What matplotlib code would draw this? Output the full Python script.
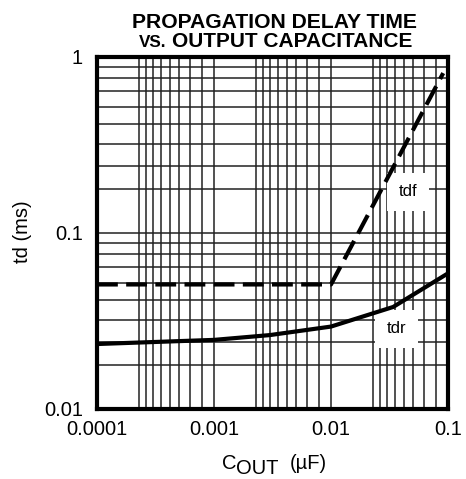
import matplotlib
matplotlib.use('Agg')
import matplotlib.pyplot as plt  # визуализация
from matplotlib import ticker  # локаторы и форматтеры осей

# значения
cout_tdf = [0.0001, 0.01, 0.091]  # мкФ
td_tdf = [0.051, 0.051, 0.81]  # мс
cout_tdr = [0.0001, 0.001, 0.003, 0.01, 0.034, 0.1]
td_tdr = [0.0234, 0.0247, 0.0263, 0.0294, 0.038, 0.059]
x_ticks = [0.0001, 0.001, 0.01, 0.1]
y_ticks = [0.01, 0.1, 1]

# сетка в оригинале нарисована "от руки": доли декады для тонких линий
GRID_X_FRAC = [0.36, 0.42, 0.48, 0.55, 0.625, 0.70, 0.797, 0.897]
GRID_Y_FRAC = [0.248, 0.38, 0.507, 0.618, 0.718, 0.805, 0.88, 0.942]

W, H = 466, 479  # размер картинки в пикселях
FONT = 14.5


def px(x, y):  # пиксели -> доли фигуры
    return x / W, 1 - y / H


def minor_positions(lo_exp, hi_exp, fracs):
    return [10 ** (d + f) for d in range(lo_exp, hi_exp) for f in fracs]


plt.rcParams['font.family'] = ['Liberation Sans', 'DejaVu Sans']
fig = plt.figure(figsize=(W / 100, H / 100), dpi=100)
ax = fig.add_axes([97 / W, 1 - 409 / H, (448 - 97) / W, (409 - 57) / H])

ax.set_xscale('log')
ax.set_yscale('log')
ax.set_xlim(x_ticks[0], x_ticks[-1])
ax.set_ylim(y_ticks[0], y_ticks[-1])

ax.xaxis.set_major_locator(ticker.FixedLocator(x_ticks))
ax.yaxis.set_major_locator(ticker.FixedLocator(y_ticks))
ax.xaxis.set_minor_locator(ticker.FixedLocator(minor_positions(-4, -1, GRID_X_FRAC)))
ax.yaxis.set_minor_locator(ticker.FixedLocator(minor_positions(-2, 0, GRID_Y_FRAC)))
fmt = ticker.FuncFormatter(lambda v, p: f'{v:g}')
ax.xaxis.set_major_formatter(fmt)
ax.yaxis.set_major_formatter(fmt)
ax.xaxis.set_minor_formatter(ticker.NullFormatter())
ax.yaxis.set_minor_formatter(ticker.NullFormatter())
ax.tick_params(which='both', length=0, labelsize=FONT)
ax.tick_params(axis='x', pad=8)
ax.tick_params(axis='y', pad=10)

ax.grid(True, which='both', color='#222222', linewidth=1.1)
ax.set_axisbelow(True)
for s in ax.spines.values():
    s.set_linewidth(3.0)

# кривые
ax.plot(cout_tdr, td_tdr, color='black', linewidth=3.0, solid_capstyle='butt', zorder=5)
line, = ax.plot(cout_tdf, td_tdf, color='black', linewidth=3.0, zorder=5)
line.set_dashes([5, 2])

box = dict(boxstyle='square,pad=0.7', facecolor='white', edgecolor='none')
ax.text(0.0455, 0.171, 'tdf', fontsize=12, ha='center', va='center', bbox=box, zorder=4)
ax.text(0.036, 0.0285, 'tdr', fontsize=12, ha='center', va='center', bbox=box, zorder=4)

# заголовок
fig.text(*px(274, 28), 'PROPAGATION DELAY TIME', fontsize=15.2, fontweight='bold',
         ha='center', va='baseline')
fig.text(*px(166, 47), 'VS.', fontsize=12.3, fontweight='bold', ha='right', va='baseline')
fig.text(*px(172, 47), 'OUTPUT CAPACITANCE', fontsize=15.0, fontweight='bold',
         ha='left', va='baseline')

# подписи осей
fig.text(*px(22, 232), 'td (ms)', fontsize=FONT, rotation=90, ha='center', va='center')
fig.text(*px(222, 469), 'C', fontsize=FONT, ha='left', va='baseline')
fig.text(*px(236, 474), 'OUT', fontsize=FONT, ha='left', va='baseline')
fig.text(*px(290, 469), '(µF)', fontsize=FONT, ha='left', va='baseline')

fig.savefig('out.png', dpi=100)
